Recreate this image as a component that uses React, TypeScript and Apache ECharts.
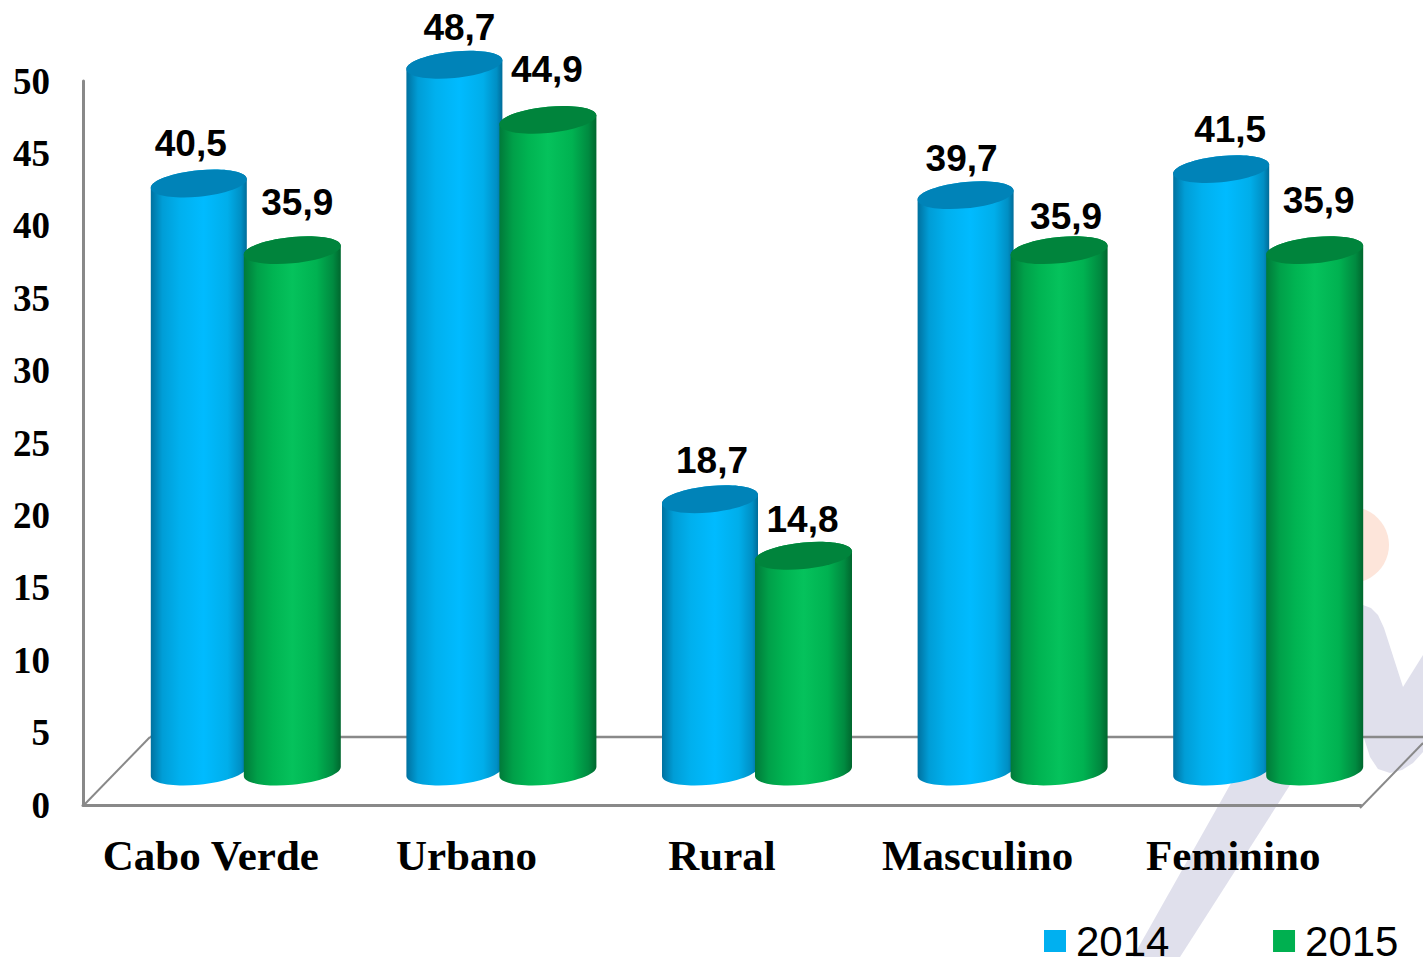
import React, { useEffect, useRef } from "react";
import * as echarts from "echarts";

const categories = ["Cabo Verde", "Urbano", "Rural", "Masculino", "Feminino"];
const values2014 = [40.5, 48.7, 18.7, 39.7, 41.5];
const values2015 = [35.9, 44.9, 14.8, 35.9, 35.9];
const yTicks = { min: 0, max: 50, interval: 5 };

// label offsets from each cylinder's top centre (dx, dy)
const nudges2014 = [[-8, -40], [5, -37], [2, -39], [-4, -37], [9, -40]];
const nudges2015 = [[5, -48], [-1, -50], [-1, -36], [7, -34], [4, -50]];

const TOP_LIFT = 35;
const BASE_LIFT = 33.5;
const TILT = 4.5;
const SEMI_B = 13.2;
const K = 0.5523;

const blueGrad = [
  [0, "#00719f"], [0.12, "#009dd6"], [0.3, "#00b0ee"], [0.55, "#00bbff"],
  [0.8, "#00aeea"], [0.94, "#008fc4"], [1, "#006c99"],
];
const greenGrad = [
  [0, "#007a39"], [0.14, "#00a049"], [0.3, "#00b452"], [0.5, "#05c25c"],
  [0.75, "#00b251"], [0.92, "#008a40"], [1, "#00672e"],
];

function gradient(stops: (number | string)[][]) {
  return new echarts.graphic.LinearGradient(0, 0, 1, 0,
    stops.map((s) => ({ offset: s[0] as number, color: s[1] as string })));
}

// Sheared ellipse arcs as cubics: lower half from right end to left end, upper half from left to right
function lowerHalf(cx: number, cy: number, a: number) {
  const b = SEMI_B, d = TILT;
  return (
    `C ${cx + a} ${cy - d + K * b} ${cx + K * a} ${cy + b - K * d} ${cx} ${cy + b} ` +
    `C ${cx - K * a} ${cy + b + K * d} ${cx - a} ${cy + d + K * b} ${cx - a} ${cy + d} `
  );
}
function upperHalf(cx: number, cy: number, a: number) {
  const b = SEMI_B, d = TILT;
  return (
    `C ${cx - a} ${cy + d - K * b} ${cx - K * a} ${cy - b + K * d} ${cx} ${cy - b} ` +
    `C ${cx + K * a} ${cy - b - K * d} ${cx + a} ${cy - d - K * b} ${cx + a} ${cy - d} `
  );
}

function cylinder(opts: {
  dx: number; half: number; grad: (number | string)[][]; cap: string; nudges: number[][];
}) {
  return (_params: any, api: any) => {
    const i = api.value(0);
    const v = api.value(1);
    const top = api.coord([i, v]);
    const base = api.coord([i, 0]);
    const cx = top[0] + opts.dx;
    const a = opts.half;
    const yt = top[1] - TOP_LIFT;
    const yb = base[1] - BASE_LIFT;
    const body =
      `M ${cx + a} ${yt - TILT} L ${cx + a} ${yb - TILT} ` +
      lowerHalf(cx, yb, a) +
      `L ${cx - a} ${yt + TILT} ` +
      upperHalf(cx, yt, a) + "Z";
    const capPath =
      `M ${cx + a} ${yt - TILT} ` + lowerHalf(cx, yt, a) + upperHalf(cx, yt, a) + "Z";
    const n = opts.nudges[i];
    return {
      type: "group",
      children: [
        { type: "path", shape: { pathData: body }, style: { fill: gradient(opts.grad) } },
        { type: "path", shape: { pathData: capPath }, style: { fill: opts.cap } },
        {
          type: "text",
          style: {
            text: String(v).replace(".", ","),
            x: cx + n[0],
            y: yt + n[1],
            fill: "#000",
            font: 'bold 37px "Liberation Sans", Arial, sans-serif',
            align: "center",
            verticalAlign: "middle",
          },
        },
      ],
    };
  };
}

const WATERMARK = "#e0e0ec";
const GRID = "#898989";

export default function App() {
  const ref = useRef<HTMLDivElement>(null);
  useEffect(() => {
    document.body.style.margin = "0";
    document.body.style.overflow = "hidden";
    const chart = echarts.init(ref.current!, null, { renderer: "svg" });
    const line = (x1: number, y1: number, x2: number, y2: number, w: number) => ({
      type: "line",
      z: 1,
      shape: { x1, y1, x2, y2 },
      style: { stroke: GRID, lineWidth: w },
    });
    chart.setOption({
      animation: false,
      backgroundColor: "#fff",
      grid: { left: 83, top: 81, width: 1278, height: 724, containLabel: false },
      legend: {
        left: 1044,
        top: 920,
        padding: 0,
        icon: "rect",
        itemWidth: 22,
        itemHeight: 22,
        itemGap: 103.6,
        data: ["2014", "2015"],
        textStyle: {
          color: "#000",
          fontSize: 42,
          padding: [0, 0, 0, 5],
          fontFamily: '"Liberation Sans", Arial, sans-serif',
        },
      },
      graphic: [
        { type: "circle", z: 0, shape: { cx: 1351, cy: 545, r: 38 }, style: { fill: "#fde5da" } },
        {
          type: "polygon", z: 0,
          shape: { points: [[1133, 957], [1180, 957], [1290, 785], [1350, 690], [1300, 690], [1230, 785]] },
          style: { fill: WATERMARK },
        },
        {
          type: "polygon", z: 0,
          shape: {
            points: [[1340, 605], [1363, 605], [1371, 608], [1378, 615], [1384, 628], [1403, 687], [1423, 655],
              [1423, 752], [1413, 763], [1402, 770], [1390, 773], [1378, 769], [1370, 757], [1363, 735], [1340, 700]],
          },
          style: { fill: WATERMARK },
        },
        line(83, 806, 150, 737, 2),
        line(150, 737, 1423, 737, 2.5),
        line(1360, 808, 1423, 743, 2),
      ],
      xAxis: {
        type: "category",
        data: categories,
        offset: 2,
        axisTick: { show: false },
        axisLine: { show: true, lineStyle: { color: GRID, width: 3 } },
        axisLabel: {
          color: "#000",
          fontSize: 43,
          fontWeight: "bold",
          fontFamily: '"Liberation Serif", "Times New Roman", serif',
          margin: 27,
          interval: 0,
        },
      },
      yAxis: {
        type: "value",
        min: yTicks.min,
        max: yTicks.max,
        interval: yTicks.interval,
        splitLine: { show: false },
        axisTick: { show: false },
        axisLine: { show: true, lineStyle: { color: GRID, width: 3 } },
        axisLabel: {
          color: "#000",
          fontSize: 37,
          fontWeight: "bold",
          fontFamily: '"Liberation Serif", "Times New Roman", serif',
          margin: 33,
        },
      },
      series: [
        {
          name: "2014",
          type: "custom",
          z: 3,
          itemStyle: { color: "#00b0f0" },
          encode: { x: 0, y: 1 },
          data: values2014.map((v, i) => [i, v]),
          renderItem: cylinder({ dx: -12, half: 48, grad: blueGrad, cap: "#0083b8", nudges: nudges2014 }),
        },
        {
          name: "2015",
          type: "custom",
          z: 4,
          itemStyle: { color: "#00b050" },
          encode: { x: 0, y: 1 },
          data: values2015.map((v, i) => [i, v]),
          renderItem: cylinder({ dx: 81.5, half: 48.5, grad: greenGrad, cap: "#00843c", nudges: nudges2015 }),
        },
      ],
    });
    return () => chart.dispose();
  }, []);
  return <div ref={ref} style={{ position: "absolute", left: 0, top: 0, width: 1423, height: 957 }} />;
}
